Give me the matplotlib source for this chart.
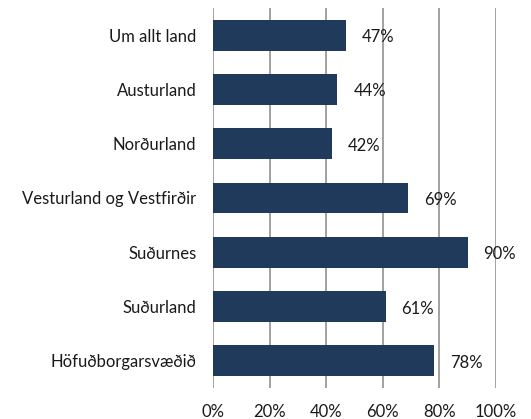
import matplotlib
matplotlib.use("Agg")
import matplotlib.pyplot as plt
import numpy as np

# data, top to bottom as shown
regions = ["Um allt land", "Austurland", "Norðurland", "Vesturland og Vestfirðir",
           "Suðurnes", "Suðurland", "Höfuðborgarsvæðið"]
shares = [47, 44, 42, 69, 90, 61, 78]
xticks = [0, 20, 40, 60, 80, 100]

plt.rcParams["font.family"] = ["Lato", "DejaVu Sans"]

fig = plt.figure(figsize=(5.31, 4.19), dpi=100)
ax = fig.add_axes([0.401, 0.074, 0.533, 0.907])

y = np.arange(len(regions))[::-1]
ax.barh(y, shares, height=0.57, color="#1f3a5a", zorder=3)
for yi, v in zip(y, shares):
    ax.annotate(f"{v}%", (v, yi), xytext=(11.5, -1.5), textcoords="offset points",
                va="center", ha="left", fontsize=12, color="#1a1a1a", zorder=4)

ax.set_xlim(0, 100)
ax.set_ylim(-0.5, len(regions) - 0.5)
ax.set_xticks(xticks)
ax.set_xticklabels([f"{t}%" for t in xticks], fontsize=12)
ax.set_yticks(y)
ax.set_yticklabels(regions, fontsize=12)
ax.tick_params(axis="both", length=0, colors="#1a1a1a")
ax.tick_params(axis="x", pad=11.5)
ax.tick_params(axis="y", pad=12)
ax.grid(axis="x", color="#9a9a9a", linewidth=1.3, zorder=0)
for s in ax.spines.values():
    s.set_visible(False)

fig.savefig("out.png", dpi=100)
